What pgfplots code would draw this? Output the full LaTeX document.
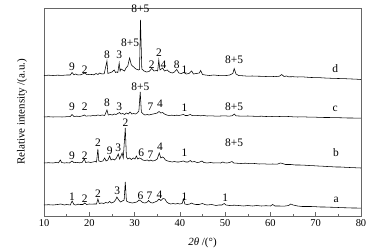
\documentclass[border=0pt]{standalone}
\usepackage{fontspec}
\setmainfont{Liberation Serif}
\usepackage{pgfplots}
\pgfplotsset{compat=1.18}
\begin{document}
\begin{tikzpicture}
\useasboundingbox (-44bp,-36bp) rectangle (344bp,216bp);
\begin{axis}[
  scale only axis, width=317bp, height=208bp,
  xmin=10, xmax=80, ymin=0, ymax=208,
  xtick={10,20,...,80}, minor xtick={15,25,...,75},
  ytick=\empty, tick pos=left, tick align=inside,
  major tick length=4bp, minor tick length=2.5bp,
  axis line style={gray!80!black, line width=0.5pt},
  every tick/.style={gray!80!black, line width=0.5pt},
  /pgf/number format/assume math mode=true,
  tick label style={font=\fontsize{10.5}{12}\selectfont},
  xlabel={\textit{2θ} /(°)},
  xlabel style={font=\fontsize{11}{13}\selectfont, at={(axis description cs:0.5,0)}, anchor=center, yshift=-27bp},
  ylabel={Relative intensity /(a.u.)},
  ylabel style={font=\fontsize{11}{13}\selectfont, at={(axis description cs:-0.069,0.5)}, anchor=center},
  clip=false,
  cycle list={{black}},
  every axis plot post/.append style={black, mark=none, line width=0.55pt},
]
% a
\addplot coordinates {(10,11)(11,11.3)(12,11)(13,11.5)(13.7,12)(14.5,11)(15,11.5)(15.8,11)(16.2,15)(16.6,11.5)(17,11)(17.5,11.8)(18,11.5)(18.6,11.5)(19,13)(19.4,11.5)(20,12)(20.5,11.8)(21,12)(21.6,12)(21.9,17)(22.2,12.5)(22.7,13)(23.2,12.5)(23.6,13.5)(24.1,13)(24.5,14.5)(24.9,13)(25.4,14)(25.8,16)(26.1,19)(26.5,16)(26.9,14)(27.3,15)(27.7,16)(27.95,34)(28.2,15)(28.6,14)(29,13.5)(29.5,13)(30,13.5)(30.5,14)(31,16)(31.4,15)(31.8,13.5)(32.3,13)(32.8,14)(33.1,15.5)(33.5,13.5)(34,13)(34.5,14)(35,15)(35.4,17)(35.8,15.5)(36.3,17.5)(36.7,17)(37.1,14)(37.6,12.5)(38,12)(38.5,12.5)(39,12)(39.5,12.5)(40,12)(40.5,12.5)(40.8,17)(41.1,12)(41.6,11.5)(42.2,12)(42.6,13)(43,12)(43.6,11.5)(44.2,11.5)(45,12.5)(45.5,11.5)(46,11)(47,11.5)(47.5,11)(48,10.5)(48.6,11)(49.3,11)(49.8,12.5)(50.2,11)(51,10.5)(52,10.8)(53,10.5)(54,10)(55,10.5)(56,10)(57,10.5)(58,10)(59,10.3)(60,10)(60.5,11.5)(61,10)(62,10)(63,9.8)(64,10.5)(64.5,12)(65,11)(66,10)(67,9.5)(68,9.5)(69,9.5)(70,9.3)(71,9)(72,9)(73,8.8)(74,8.7)(75,8.5)(76,8.3)(77,8.2)(78,8)(79,8)(80,7.8)};
% b
\addplot coordinates {(10,53)(11,53.3)(12,53)(12.6,53.5)(13.2,53.2)(13.6,56)(13.9,53.5)(14.5,53)(15,53.3)(15.6,53)(16.2,55)(16.6,53.3)(17.2,53.6)(17.8,53.2)(18.4,53.5)(18.9,57)(19.2,53.5)(19.8,54)(20.3,53.5)(20.8,54)(21.3,54.5)(21.6,54)(21.9,67)(22.1,55)(22.5,54.5)(23,55)(23.4,58)(23.7,55)(24.1,56)(24.5,60)(24.8,56)(25.2,57)(25.6,56)(26,58)(26.4,62)(26.7,57)(27.0,60)(27.25,63)(27.5,58)(27.95,88)(28.2,59)(28.5,57)(28.9,58)(29.3,56.5)(29.7,58)(30.1,57)(30.4,60)(30.7,57)(31.1,58)(31.4,57.5)(31.8,56)(32.3,55.5)(32.8,56)(33.2,55)(33.6,56)(34,55)(34.5,55.5)(35,57)(35.45,63)(35.8,58)(36.2,59)(36.5,58)(36.8,56)(37.3,55)(37.8,54.5)(38.3,54)(38.8,54.5)(39.3,54)(39.8,54)(40.3,54.5)(40.8,55)(41.3,54)(41.8,54)(42.3,55.5)(42.7,54)(43.2,54.5)(43.8,53.5)(44.3,53.8)(44.9,55)(45.3,53.5)(46,53)(46.8,53.5)(47.5,53)(48.2,53.2)(49,53)(49.5,54)(49.9,53.2)(50.4,53)(51,53.5)(51.5,54.5)(51.9,53)(52.5,52.8)(53.5,52.5)(54.5,52.8)(55.5,52.3)(56.5,52.5)(57.5,52)(58.5,52.2)(59.5,51.8)(60.5,52)(61.5,51.8)(62.2,53)(62.7,52.5)(63.3,51.5)(64.5,51.5)(65.5,51)(66.5,51)(67.5,50.8)(68.5,50.5)(69.5,50.3)(70.5,50)(71.5,49.8)(72.5,49.5)(73.5,49.3)(74.5,49)(75.5,49)(76.5,48.7)(77.5,48.5)(78.5,48.3)(80,48)};
% c
\addplot coordinates {(10,99)(11,99.3)(12,99)(13,99.2)(14,99)(15,99.3)(15.8,99.5)(16.2,101.5)(16.6,99.5)(17.2,99.8)(17.8,99.5)(18.4,100)(18.9,101)(19.3,99.8)(19.8,100.2)(20.3,100)(20.8,100.5)(21.3,100.2)(21.9,101)(22.4,100.5)(22.9,101)(23.4,100.5)(23.9,106)(24.2,101)(24.6,101.5)(25.1,101)(25.5,102)(25.9,101.5)(26.3,102.5)(26.7,103.5)(27.0,102)(27.4,102.5)(27.8,101.5)(28.2,103)(28.6,102)(29.0,104)(29.4,102)(29.8,102.5)(30.2,102)(30.6,103)(30.95,105)(31.25,124)(31.5,104)(31.9,102)(32.3,101)(32.8,101.5)(33.2,101)(33.6,101.5)(34.1,102)(34.6,102.5)(35,103)(35.4,104.5)(35.8,103)(36.2,103.5)(36.6,102)(37.1,101)(37.6,100.5)(38.2,100.8)(38.8,100.5)(39.3,100.8)(39.8,100.5)(40.3,101)(40.8,101.5)(41.2,100.5)(41.7,100.5)(42.3,101.5)(42.7,100.5)(43.3,100.3)(44,100.5)(44.6,100.2)(45.3,100.5)(46,100)(47,100.2)(48,99.8)(49,100)(50,100.2)(50.8,99.8)(51.6,100.3)(52,102)(52.4,100.2)(53,100)(54,99.8)(55,100)(56,99.8)(57,99.6)(58,99.8)(59,99.5)(60,99.6)(61,99.3)(62,99.5)(63,99.3)(64,99.5)(65,99.2)(66,99)(67,99.2)(68,99)(69,98.8)(70,98.8)(71,98.6)(72,98.5)(73,98.5)(74,98.3)(75,98.3)(76,98.2)(77,98)(78,98)(80,97.8)};
% d
\addplot coordinates {(10,140.5)(11,140.8)(12,140.5)(13,140.8)(14,140.6)(15,141)(15.8,141)(16.2,143.5)(16.6,141.2)(17,142)(17.5,141)(18.2,141.3)(19,143)(19.5,141.3)(20,141.6)(20.5,141.5)(21,141.2)(21.5,142.5)(21.9,141.5)(22.3,143)(22.8,142)(23.3,142.3)(23.9,155)(24.1,142.5)(24.4,143)(25,144)(25.5,146)(25.8,143.5)(26.0,144)(26.3,143.5)(26.6,153)(26.8,145)(27.0,147)(27.4,146)(27.8,145)(28.1,148)(28.5,150)(28.9,158)(29.3,151)(29.8,149)(30.3,147)(30.9,146)(31.1,146.5)(31.3,196)(31.6,147)(32.1,145)(32.6,144)(33.2,144.5)(33.8,147.5)(34.3,145)(34.8,145.5)(35.1,145)(35.35,156)(35.6,146)(36.2,148)(36.6,145)(37.2,146)(37.7,144)(38.3,143)(38.8,144)(39.3,146.5)(39.8,143)(40.3,142.5)(40.9,143.5)(41.4,142)(42,142.5)(42.6,145)(43,142)(43.6,142.5)(44.3,143)(44.6,145.5)(45,141.5)(45.6,141)(46.5,140.5)(47.5,141)(48.5,140.5)(49.3,140.3)(50.3,140.5)(51,141)(51.7,142.5)(52,147.5)(52.4,142)(53,140.5)(54,140.2)(55,139.8)(56,140)(57,139.8)(58,139.7)(59,139.5)(60,139.7)(61,139.4)(62,139.8)(62.5,141.5)(63,139.5)(63.6,140)(64,139.2)(65,139.3)(66,139)(67,139.2)(68,138.8)(69,138.5)(70,138.4)(71,138.3)(72,138)(73,137.8)(74,137.6)(75,137.5)(76,137.4)(77,137.2)(78,137)(79,136.8)(80,136.5)};
% labels
\begin{scope}[every node/.style={font=\fontsize{11.5}{13}\selectfont, inner sep=0pt}]
% d
\node at (axis cs:16.2,149) {9};
\node at (axis cs:19,146) {2};
\node at (axis cs:23.9,161) {8};
\node at (axis cs:26.6,161) {3};
\node at (axis cs:29,173) {8+5};
\node at (axis cs:31.3,207) {8+5};
\node at (axis cs:33.8,151) {2};
\node at (axis cs:35.4,163) {2};
\node at (axis cs:36.4,151) {4};
\node at (axis cs:39.3,151) {8};
\node at (axis cs:41,146) {1};
\node at (axis cs:52,156) {8+5};
\node at (axis cs:74.3,147) {d};
% c
\node at (axis cs:16.2,109) {9};
\node at (axis cs:19,109) {2};
\node at (axis cs:23.9,113) {8};
\node at (axis cs:26.6,109) {3};
\node at (axis cs:31.3,129) {8+5};
\node at (axis cs:33.5,109) {7};
\node at (axis cs:35.6,112) {4};
\node at (axis cs:41,108) {1};
\node at (axis cs:52,109) {8+5};
\node at (axis cs:74.3,107) {c};
% b
\node at (axis cs:16.2,60) {9};
\node at (axis cs:19,60) {2};
\node at (axis cs:21.9,73) {2};
\node at (axis cs:24.5,65) {9};
\node at (axis cs:26.4,68) {3};
\node at (axis cs:28,93) {2};
\node at (axis cs:31.5,63) {6};
\node at (axis cs:33.5,61) {7};
\node at (axis cs:35.6,69) {4};
\node at (axis cs:41,63) {1};
\node at (axis cs:52,73) {8+5};
\node at (axis cs:74.5,63) {b};
% a
\node at (axis cs:16.2,19) {1};
\node at (axis cs:19,17) {2};
\node at (axis cs:21.9,22) {2};
\node at (axis cs:26.2,25) {3};
\node at (axis cs:31.3,20) {6};
\node at (axis cs:33.3,20) {7};
\node at (axis cs:35.5,21) {4};
\node at (axis cs:41,19) {1};
\node at (axis cs:50,18) {1};
\node at (axis cs:74.5,16) {a};
\end{scope}
\end{axis}
\end{tikzpicture}
\end{document}
